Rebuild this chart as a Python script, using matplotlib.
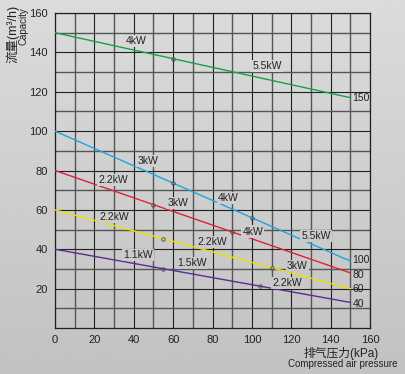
import matplotlib
matplotlib.use("Agg")
import matplotlib.pyplot as plt
import numpy as np

plt.rcParams['font.family'] = ['Liberation Sans', 'Noto Sans CJK SC', 'DejaVu Sans']

# pressure range of each curve (kPa)
pressure = [0, 150]

# capacity at 0 kPa and at 150 kPa for every blower (m3/h)
green = [150, 117]
blue = [100, 34]
red = [80, 28]
yellow = [60, 20]
purple = [40, 13]

# small open circles where the motor power changes
green_marks = [60]
blue_marks = [60, 100]
red_marks = [50, 90]
yellow_marks = [55, 110]
purple_marks = [55, 104]

# power labels: (text, x, y)
power_labels = [
    ("4kW", 41, 145.7), ("5.5kW", 107.6, 133),
    ("3kW", 47, 85), ("4kW", 88, 66), ("5.5kW", 132.5, 46.7),
    ("2.2kW", 29.4, 75), ("3kW", 62.4, 63.5), ("4kW", 100.5, 49),
    ("2.2kW", 30, 56.3), ("2.2kW", 80, 43.7), ("3kW", 123, 31.5),
    ("1.1kW", 42, 37), ("1.5kW", 69.5, 33), ("2.2kW", 118, 22.8),
]

# model labels at the end of each curve
end_labels = ["150", "100", "80", "60", "40"]
end_y = [116.8, 34.5, 27, 19.8, 12.2]

series = [
    (green, green_marks, "#1aa04a"),
    (blue, blue_marks, "#1aa8e0"),
    (red, red_marks, "#e0203c"),
    (yellow, yellow_marks, "#f0e000"),
    (purple, purple_marks, "#5a2d91"),
]

fig = plt.figure(figsize=(4.05, 3.74), dpi=100)

# grey gradient background
bg = fig.add_axes([0, 0, 1, 1], zorder=-10)
grad = np.linspace(0.86, 0.76, 256).reshape(-1, 1)
bg.imshow(grad, cmap="gray", vmin=0, vmax=1, aspect="auto", extent=[0, 1, 0, 1])
bg.axis("off")


def bg_color(yfrac):
    v = 0.86 - (1 - yfrac) * 0.10
    return (v, v, v)


ax = fig.add_axes([0.1358, 0.123, 0.7778, 0.8422])
ax.set_facecolor("none")
ax.set_xlim(0, 160)
ax.set_ylim(0, 160)

ax.set_xticks(np.arange(0, 161, 20))
ax.set_yticks(np.arange(20, 161, 20))
ax.set_xticks(np.arange(10, 160, 20), minor=True)
ax.set_yticks(np.arange(10, 160, 20), minor=True)
ax.grid(which="major", color="#202020", lw=0.8)
ax.grid(which="minor", color="#555555", lw=1.0)
ax.tick_params(which="both", length=0, labelsize=8, colors="#222222", pad=5)
for s in ax.spines.values():
    s.set_color("#202020")
    s.set_linewidth(0.9)

for values, marks, color in series:
    ax.plot(pressure, values, color=color, lw=1.0, zorder=3)
    slope = (values[1] - values[0]) / (pressure[1] - pressure[0])
    mx = np.array(marks, dtype=float)
    my = values[0] + slope * (mx - pressure[0])
    ax.plot(mx, my, "o", ms=2.5, mfc="none", mec="#555555", mew=0.7, zorder=4)

for text, x, y in power_labels:
    ax.text(x, y, text, fontsize=7.5, color="#222222", ha="center", va="center",
            zorder=5, bbox=dict(boxstyle="square,pad=0.1", fc=bg_color(0.123 + 0.8422 * y / 160), ec="none"))

for text, y in zip(end_labels, end_y):
    ax.text(151, y, text, fontsize=7.5, color="#222222", ha="left", va="center",
            zorder=5, clip_on=False)

fig.text(13 / 405, 1 - 5 / 374, "流量(m³/h)", rotation=90, ha="center", va="top",
         fontsize=9, color="#222222")
fig.text(23.5 / 405, 1 - 7 / 374, "Capacity", rotation=90, ha="center", va="top",
         fontsize=7, color="#222222")
fig.text(379 / 405, 1 - 353 / 374, "排气压力(kPa)", ha="right", va="center",
         fontsize=8.5, color="#222222")
fig.text(397 / 405, 1 - 364 / 374, "Compressed air pressure", ha="right", va="center",
         fontsize=7, color="#222222")

fig.savefig("out.png", dpi=100)
